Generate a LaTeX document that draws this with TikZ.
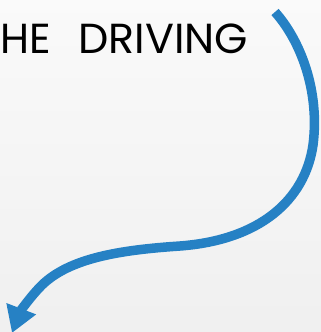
\documentclass[tikz,border=0pt]{standalone}
\usepackage{fontspec}
\setmainfont{Poppins}
\usetikzlibrary{arrows.meta}
\definecolor{arrowblue}{RGB}{38,129,196}
\tikzset{
  title/.style={inner sep=0pt, anchor=base west, font=\fontsize{42}{42}\selectfont, text=black},
  bigarrow/.style={line width=9.5pt, draw=arrowblue, -{Triangle[length=26pt,width=30pt]}}
}
\begin{document}
\begin{tikzpicture}[x=1pt,y=-1pt]
\useasboundingbox (0,0) rectangle (321,332);
\clip (0,0) rectangle (321,332);
\shade[top color=white!98!black, bottom color=white!94!black] (0,0) rectangle (321,332);
\node[title] (he) at (0,53) {HE};
\node[title, xscale=1.02] (driving) at (78,53) {DRIVING};
\coordinate (start) at (275,12);
\coordinate (tip) at (12,333);
\draw[bigarrow] (start) .. controls (300,40) and (320,90) .. (313,145)
  .. controls (305,200) and (260,240) .. (180,246)
  .. controls (120,250) and (70,258) .. (42,285)
  .. controls (30,297) and (20,312) .. (tip);
\end{tikzpicture}
\end{document}
